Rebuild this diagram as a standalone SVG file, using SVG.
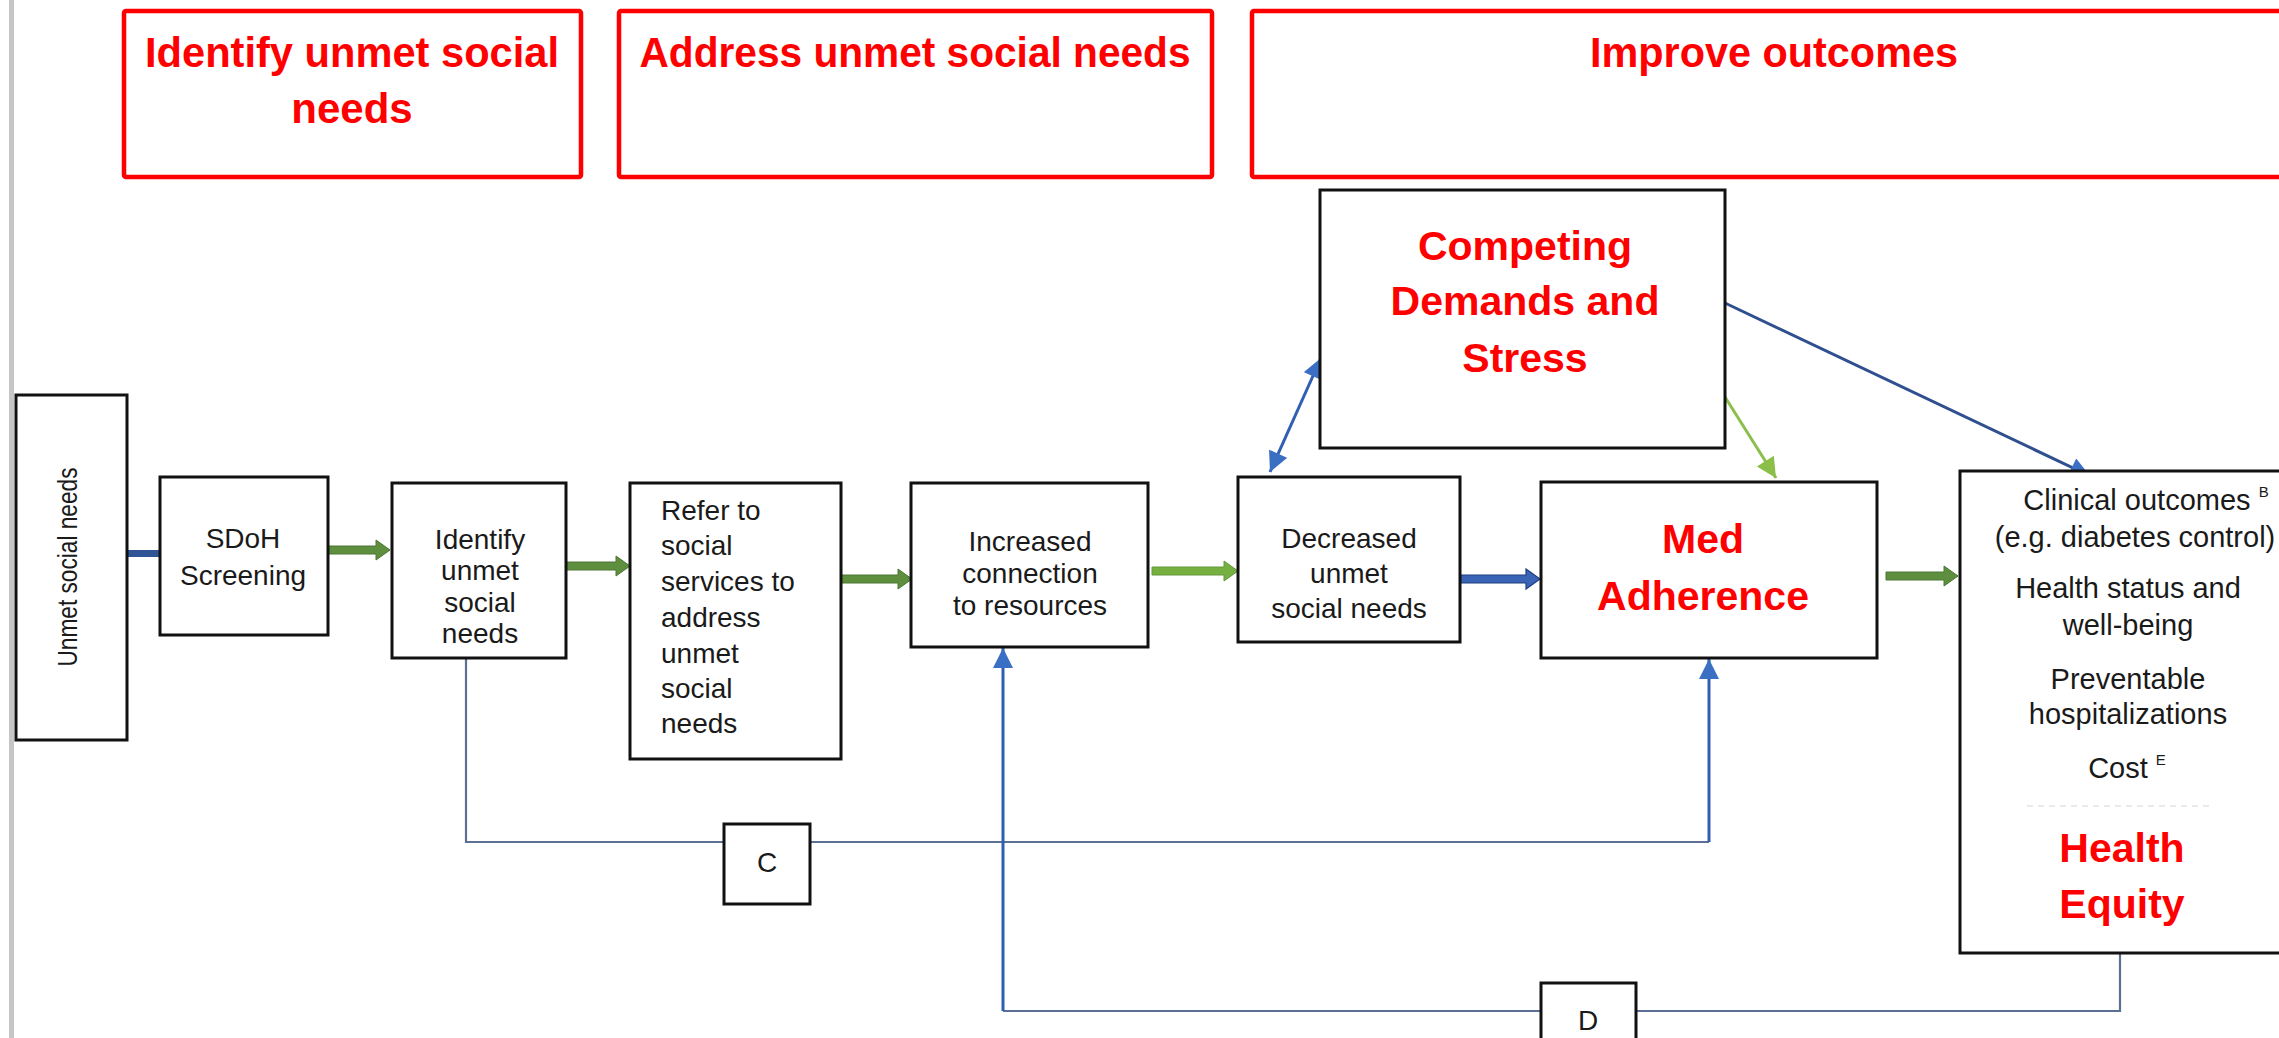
<svg xmlns="http://www.w3.org/2000/svg" width="2279" height="1038" viewBox="0 0 2279 1038">
<style>
.hdr{fill:#fff;stroke:#ff0000;stroke-width:4.5}
.htxt{font-family:"Liberation Sans",Arial,sans-serif;font-weight:bold;font-size:42px;fill:#ff0000;text-anchor:middle}
.box{fill:#fff;stroke:#111;stroke-width:3}
.t{font-family:"Liberation Sans",Arial,sans-serif;font-size:28px;fill:#1a1a1a;text-anchor:middle}
.tl{font-family:"Liberation Sans",Arial,sans-serif;font-size:28px;fill:#1a1a1a}
.rt{font-family:"Liberation Sans",Arial,sans-serif;font-weight:bold;font-size:41px;fill:#ff0000;text-anchor:middle}
.ot{font-family:"Liberation Sans",Arial,sans-serif;font-size:29px;fill:#1a1a1a;text-anchor:middle}
.vt{font-family:"Liberation Sans",Arial,sans-serif;font-size:28px;fill:#1a1a1a;text-anchor:middle}
.thin{fill:none;stroke:#5b7094;stroke-width:2.2}
.blue{fill:none;stroke:#2f5fb3;stroke-width:3}
.navy{fill:none;stroke:#2f4f8f;stroke-width:3}
.lgreen{fill:none;stroke:#8cbf4a;stroke-width:3}
.ga{fill:#5e8f3e;stroke:#4c7632;stroke-width:1}
.gl{fill:#76b041;stroke:#62983a;stroke-width:1}
.ba{fill:#3a64b5;stroke:#1f3f80;stroke-width:1.2}
</style>
<defs>
<marker id="mb" viewBox="0 0 10 10" refX="10" refY="5" markerWidth="22" markerHeight="20" markerUnits="userSpaceOnUse" orient="auto-start-reverse"><path d="M0,0 L10,5 L0,10 z" fill="#3a6fc4"/></marker>
<marker id="mg" viewBox="0 0 10 10" refX="10" refY="5" markerWidth="22" markerHeight="20" markerUnits="userSpaceOnUse" orient="auto"><path d="M0,0 L10,5 L0,10 z" fill="#8cbf4a"/></marker>
</defs>
<rect x="0" y="0" width="2279" height="1038" fill="#fff"/>
<rect x="9" y="0" width="5" height="1038" fill="#c6c6c6"/>

<g id="header-identify">
<rect class="hdr" x="124" y="11" width="457" height="166" rx="2"/>
<text class="htxt" x="352" y="67" textLength="414" lengthAdjust="spacingAndGlyphs">Identify unmet social</text>
<text class="htxt" x="352" y="123">needs</text>
</g>
<g id="header-address">
<rect class="hdr" x="619" y="11" width="593" height="166" rx="2"/>
<text class="htxt" x="915" y="67" textLength="551" lengthAdjust="spacingAndGlyphs">Address unmet social needs</text>
</g>
<g id="header-improve">
<rect class="hdr" x="1252" y="11" width="1040" height="166" rx="2"/>
<text class="htxt" x="1774" y="67" textLength="368" lengthAdjust="spacingAndGlyphs">Improve outcomes</text>
</g>

<g id="connectors">
<polyline class="thin" points="466,658 466,842 1709,842"/>
<polyline class="thin" points="2120,953 2120,1011 1003,1011"/>
<line class="blue" x1="1003" y1="1011" x2="1003" y2="648" marker-end="url(#mb)"/>
<line class="blue" x1="1709" y1="842" x2="1709" y2="659" marker-end="url(#mb)"/>
<line class="blue" x1="1270" y1="472" x2="1321" y2="358" marker-start="url(#mb)" marker-end="url(#mb)"/>
<line class="navy" x1="1725" y1="303" x2="2090" y2="476" marker-end="url(#mb)"/>
<line class="lgreen" x1="1725" y1="397" x2="1776" y2="478" marker-end="url(#mg)"/>
<rect x="127" y="550" width="34" height="7" fill="#2f5597"/>
<polygon class="ga" points="328,546 376,546 376,540 390,550 376,560 376,554 328,554"/>
<polygon class="ga" points="566,562 616,562 616,556 630,566 616,576 616,570 566,570"/>
<polygon class="ga" points="841,575 898,575 898,569 912,579 898,589 898,583 841,583"/>
<polygon class="gl" points="1152,567 1224,567 1224,561 1238,571 1224,581 1224,575 1152,575"/>
<polygon class="ba" points="1460,575 1526,575 1526,569 1540,579 1526,589 1526,583 1460,583"/>
<polygon class="ga" points="1886,572 1944,572 1944,566 1958,576 1944,586 1944,580 1886,580"/>
</g>

<g id="node-unmet">
<rect class="box" x="16" y="395" width="111" height="345"/>
<text class="vt" transform="translate(77,567) rotate(-90)" x="0" y="0" textLength="199" lengthAdjust="spacingAndGlyphs">Unmet social needs</text>
</g>
<g id="node-sdoh">
<rect class="box" x="160" y="477" width="168" height="158"/>
<text class="t" x="243" y="548">SDoH</text>
<text class="t" x="243" y="585">Screening</text>
</g>
<g id="node-identify">
<rect class="box" x="392" y="483" width="174" height="175"/>
<text class="t" x="480" y="549">Identify</text>
<text class="t" x="480" y="580">unmet</text>
<text class="t" x="480" y="612">social</text>
<text class="t" x="480" y="643">needs</text>
</g>
<g id="node-refer">
<rect class="box" x="630" y="483" width="211" height="276"/>
<text class="tl" x="661" y="520">Refer to</text>
<text class="tl" x="661" y="555">social</text>
<text class="tl" x="661" y="591">services to</text>
<text class="tl" x="661" y="627">address</text>
<text class="tl" x="661" y="663">unmet</text>
<text class="tl" x="661" y="698">social</text>
<text class="tl" x="661" y="733">needs</text>
</g>
<g id="node-increased">
<rect class="box" x="911" y="483" width="237" height="164"/>
<text class="t" x="1030" y="551">Increased</text>
<text class="t" x="1030" y="583">connection</text>
<text class="t" x="1030" y="615">to resources</text>
</g>
<g id="node-decreased">
<rect class="box" x="1238" y="477" width="222" height="165"/>
<text class="t" x="1349" y="548">Decreased</text>
<text class="t" x="1349" y="583">unmet</text>
<text class="t" x="1349" y="618">social needs</text>
</g>
<g id="node-competing">
<rect class="box" x="1320" y="190" width="405" height="258"/>
<text class="rt" x="1525" y="260">Competing</text>
<text class="rt" x="1525" y="315">Demands and</text>
<text class="rt" x="1525" y="372">Stress</text>
</g>
<g id="node-med">
<rect class="box" x="1541" y="482" width="336" height="176"/>
<text class="rt" x="1703" y="553">Med</text>
<text class="rt" x="1703" y="610">Adherence</text>
</g>
<g id="node-outcomes">
<rect class="box" x="1960" y="471" width="340" height="482"/>
<text class="ot" x="2146" y="510">Clinical outcomes <tspan font-size="15" dy="-13">B</tspan></text>
<text class="ot" x="2135" y="547">(e.g. diabetes control)</text>
<text class="ot" x="2128" y="598">Health status and</text>
<text class="ot" x="2128" y="635">well-being</text>
<text class="ot" x="2128" y="689">Preventable</text>
<text class="ot" x="2128" y="724">hospitalizations</text>
<text class="ot" x="2127" y="778">Cost <tspan font-size="15" dy="-13">E</tspan></text>
<line x1="2027" y1="806" x2="2210" y2="806" stroke="#e4e4e4" stroke-width="1.5" stroke-dasharray="6 5"/>
<text class="rt" x="2122" y="862">Health</text>
<text class="rt" x="2122" y="918">Equity</text>
</g>
<g id="node-c">
<rect class="box" x="724" y="824" width="86" height="80" stroke-width="2.5"/>
<text class="t" x="767" y="872">C</text>
</g>
<g id="node-d">
<rect class="box" x="1541" y="983" width="95" height="70" stroke-width="2.5"/>
<text class="t" x="1588" y="1030">D</text>
</g>
</svg>
